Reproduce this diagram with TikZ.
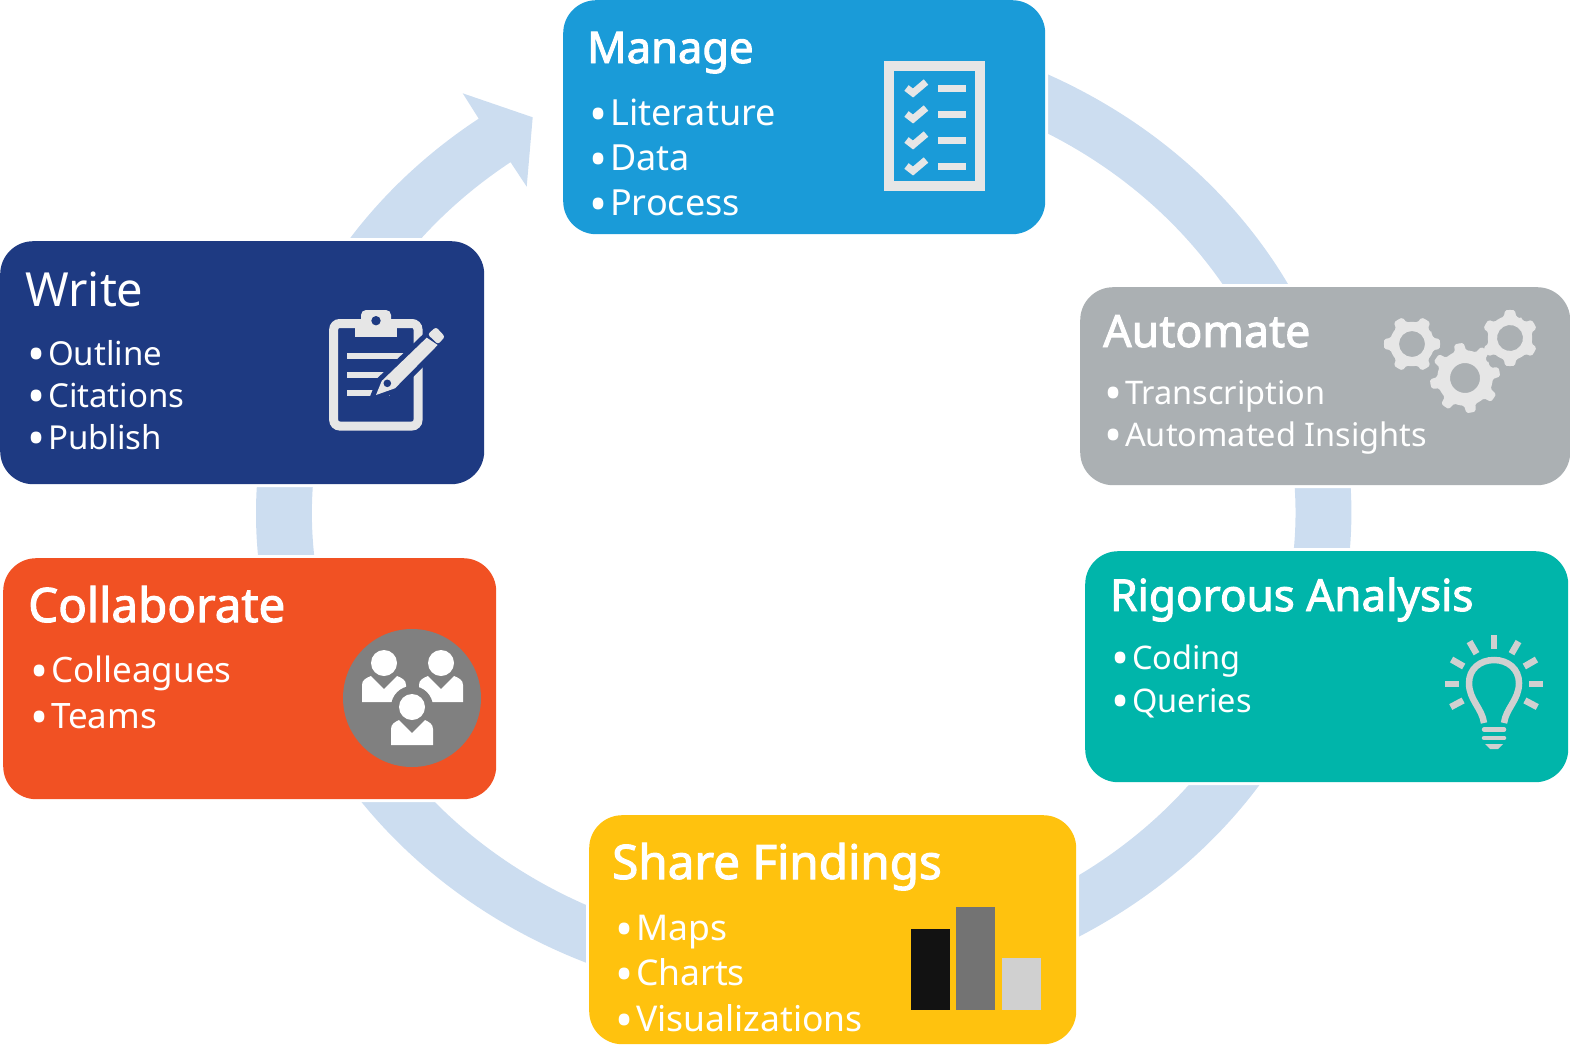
\documentclass[tikz,border=0pt]{standalone}
\usepackage{fontspec}
\setmainfont{Noto Sans}
\newfontfamily\heavyfont{Noto Sans}[FakeBold=2.2]
\definecolor{ringblue}{HTML}{CCDDF0}
\definecolor{manageblue}{HTML}{1A9BD8}
\definecolor{writeblue}{HTML}{1E3A82}
\definecolor{autogray}{HTML}{ABB0B3}
\definecolor{rigorteal}{HTML}{00B5AA}
\definecolor{shareyellow}{HTML}{FFC20E}
\definecolor{collaborange}{HTML}{F15123}
\definecolor{iconlight}{HTML}{E6E6E6}
\definecolor{iconmid}{HTML}{D0D0D0}
\definecolor{icondark}{HTML}{808080}
\tikzset{
  panel/.style={preaction={draw=white, line width=6pt}, rounded corners=33pt, anchor=north west, inner sep=0pt},
  paneltitle/.style={anchor=base west, text=white, inner sep=0pt, font=\heavyfont\fontsize{#1}{#1}\selectfont},
  panelitem/.style={anchor=base west, text=white, inner sep=0pt, font=\fontsize{#1}{#1}\selectfont},
}
\newcommand{\itemdot}{\makebox[21pt][l]{\smash{\raisebox{-6pt}{\fontsize{48}{48}\selectfont •}}}}
\newcommand{\gearicon}[6]{% x, y, radius, rotation, teeth, hole
  \begin{scope}[shift={(#1,#2)}, rotate=#4]
    \pgfmathsetmacro{\gstep}{360/#5}
    \pgfmathsetmacro{\groot}{#3*0.79}
    \pgfmathsetmacro{\glast}{360-\gstep}
    \fill[iconlight, even odd rule, rounded corners=1.5pt] (-0.5*\gstep:\groot)
      \foreach \a in {0,\gstep,...,\glast} {
        arc[start angle=\a-0.5*\gstep, end angle=\a-0.27*\gstep, radius=\groot] -- (\a-0.17*\gstep:#3) arc[start angle=\a-0.17*\gstep, end angle=\a+0.17*\gstep, radius=#3] -- (\a+0.27*\gstep:\groot) arc[start angle=\a+0.27*\gstep, end angle=\a+0.5*\gstep, radius=\groot]
      } -- cycle (0,0) circle (#6);
  \end{scope}
}
\begin{document}
\begin{tikzpicture}[x=1pt,y=-1pt]
\useasboundingbox (0,0) rectangle (1570,1044);

\coordinate (ringc) at (803.7,513);

% ring with its arrow head
\fill[ringblue] ([shift={(233.6:547.7 and 490)}]ringc) arc[start angle=233.6, end angle=-75, x radius=547.7, y radius=490]
  -- ([shift={(-75:491.7 and 437)}]ringc) arc[start angle=-75, end angle=233.4, x radius=491.7, y radius=437]
  -- (526.7,186.7) -- (532.7,117.3) -- (462.7,93.3) -- cycle;

% panels
\node (manage) [panel, fill=manageblue, minimum width=482pt, minimum height=234pt] at (563,0) {};
\node (write) [panel, fill=writeblue, minimum width=484pt, minimum height=243pt] at (0,241) {};
\node (automate) [panel, fill=autogray, minimum width=490pt, minimum height=198pt] at (1080,287) {};
\node (rigorous) [panel, fill=rigorteal, minimum width=483pt, minimum height=231pt] at (1085,551) {};
\node (share) [panel, fill=shareyellow, minimum width=487pt, minimum height=229pt] at (589,815) {};
\node (collab) [panel, fill=collaborange, minimum width=493pt, minimum height=241pt] at (3,558) {};

% texts
\node (managetitle) [paneltitle=43.5] at (587,63) {Manage};
\node (manageone) [panelitem=36] at (589,125) {\itemdot Literature};
\node (managetwo) [panelitem=36] at (589,170) {\itemdot Data};
\node (managethree) [panelitem=36] at (589,215) {\itemdot Process};

\node (writetitle) [paneltitle=47, font=\normalfont\fontsize{47}{47}\selectfont] at (25,306) {Write};
\node (writeone) [panelitem=33] at (27,365) {\itemdot Outline};
\node (writetwo) [panelitem=33] at (27,407) {\itemdot Citations};
\node (writethree) [panelitem=33] at (27,449) {\itemdot Publish};

\node (autotitle) [paneltitle=44.6] at (1103,347) {Automate};
\node (autoone) [panelitem=32.5] at (1104,404) {\itemdot Transcription};
\node (autotwo) [panelitem=32.5] at (1104,446) {\itemdot Automated Insights};

\node (rigortitle) [paneltitle=44] at (1110,611) {Rigorous Analysis};
\node (rigorone) [panelitem=32.5] at (1111,669) {\itemdot Coding};
\node (rigortwo) [panelitem=32.5] at (1111,712) {\itemdot Queries};

\node (sharetitle) [paneltitle=47.6] at (612,879) {Share Findings};
\node (shareone) [panelitem=35.5] at (615,940) {\itemdot Maps};
\node (sharetwo) [panelitem=35.5] at (615,985) {\itemdot Charts};
\node (sharethree) [panelitem=35.5] at (615,1031) {\itemdot Visualizations};

\node (collabtitle) [paneltitle=47.5] at (28,622) {Collaborate};
\node (collabone) [panelitem=35] at (30,682) {\itemdot Colleagues};
\node (collabtwo) [panelitem=35] at (30,728) {\itemdot Teams};

% checklist icon
\draw[iconlight, line width=10pt] (889,65.7) rectangle (980,186);
\foreach \y in {88,114,140,166} {
  \draw[iconlight, line width=7pt] (906.5,\y) -- (913,\y+5) -- (926,\y-6);
  \fill[iconlight] (938,\y-3.5) rectangle (966,\y+3.5);
}

% clipboard icon
\draw[iconlight, line width=9pt, rounded corners=6pt] (333.7,323.5) rectangle (418,426);
\fill[iconlight] (355,328) rectangle (397.3,337.3);
\fill[iconlight, rounded corners=5pt] (361,330) -- (361,310) -- (391,310) -- (391,330) -- cycle;
\fill[writeblue] (376,320.7) circle (4.7);
\fill[iconlight] (347.3,353.3) rectangle (410,359.3);
\fill[iconlight] (347.3,371.7) rectangle (400,377.7);
\fill[iconlight] (347.3,390) rectangle (390,395.7);
\fill[iconlight, preaction={draw=writeblue, line width=10pt}] (376,395) -- (381.7,381) -- (426.7,337.7) -- (437.7,345) -- (395,388.3) -- cycle;
\fill[iconlight, rounded corners=2.5pt] (436,327) -- (445,336.7) -- (438,344.3) -- (427.7,334.3) -- cycle;
\fill[writeblue] (387.3,383.3) circle (3.8);

% gears
\gearicon{1412}{344}{28}{0}{6}{13}
\gearicon{1510}{338}{28}{30}{6}{13}
\gearicon{1465}{378}{35}{10}{8}{15}

% bulb icon
\draw[iconmid, line width=6.5pt] (1484,723) .. controls (1482,708) and (1469,700) .. (1469,683) .. controls (1469,669) and (1480,660) .. (1494,660) .. controls (1508,660) and (1519,669) .. (1519,683) .. controls (1519,700) and (1506,708) .. (1504,723);
\foreach \a in {-90,-120,-60,-150,-30,180,0,152,28} {
  \draw[iconmid, line width=6.5pt] (1494,684) ++(\a:35) -- ++(\a:14);
}
\draw[iconmid, line width=4.5pt, line cap=round] (1484,729.5) -- (1504,729.5);
\draw[iconmid, line width=4.5pt, line cap=round] (1484,738) -- (1504,738);
\fill[iconmid] (1485,744) -- (1503,744) -- (1498,749) -- (1490,749) -- cycle;

% people icon
\fill[icondark] (412,698) circle (69);
\foreach \x/\y in {384/676, 441/676} {
  \fill[white] (\x,\y-13) circle (13);
  \fill[white] (\x-22,\y+26) -- (\x-22,\y+9) .. controls (\x-22,\y+4) and (\x-18,\y+2) .. (\x-13,\y) -- (\x,\y+13) -- (\x+13,\y) .. controls (\x+18,\y+2) and (\x+22,\y+4) .. (\x+22,\y+9) -- (\x+22,\y+26) -- cycle;
}
\fill[icondark] (412,707) circle (21);
\fill[white] (412,707) circle (13);
\fill[white] (391,745) -- (391,729) .. controls (391,724) and (395,722) .. (399,720) -- (412,733) -- (425,720) .. controls (429,722) and (433,724) .. (433,729) -- (433,745) -- cycle;

% bars
\fill[black!93] (911,929) rectangle (950,1010);
\fill[black!55] (956,907) rectangle (995,1010);
\fill[iconmid] (1002,958) rectangle (1041,1010);
\end{tikzpicture}
\end{document}
